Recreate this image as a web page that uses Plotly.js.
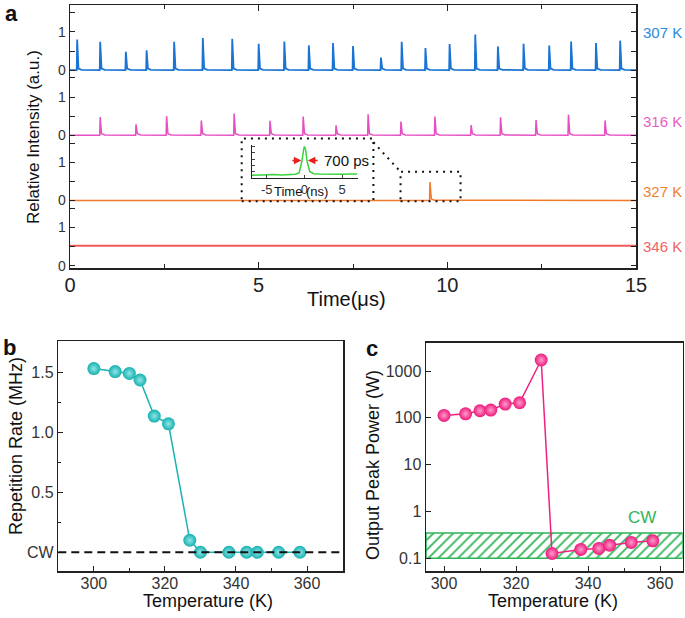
<!DOCTYPE html>
<html>
<head>
<meta charset="utf-8">
<script src="https://cdn.plot.ly/plotly-3.0.1.min.js"></script>
<style>
  html, body { margin: 0; padding: 0; background: #fff; }
  #fig { width: 685px; height: 618px; }
</style>
</head>
<body>
<div id="fig"></div>
<script>
// panel a: pulse trains (time in µs, relative height)
const times307 = [0.19, 0.80, 1.48, 2.03, 2.76, 3.52, 4.30, 5.00, 5.68, 6.33, 6.97, 7.50, 8.24, 8.79, 9.42, 10.06, 10.74, 11.34, 12.02, 12.70, 13.28, 13.94, 14.58];
const heights307 = [0.80, 0.74, 0.48, 0.52, 0.74, 0.84, 0.82, 0.69, 0.75, 0.65, 0.71, 0.63, 0.33, 0.74, 0.58, 0.68, 0.93, 0.62, 0.69, 0.64, 0.75, 0.71, 0.77];
const times316 = [0.80, 1.75, 2.56, 3.48, 4.35, 5.30, 6.18, 7.05, 7.90, 8.77, 9.67, 10.63, 11.41, 12.35, 13.21, 14.18];
const heights316 = [0.48, 0.29, 0.50, 0.39, 0.57, 0.38, 0.49, 0.26, 0.55, 0.36, 0.49, 0.27, 0.47, 0.40, 0.54, 0.39];
const times327 = [9.54];
const heights327 = [0.48];
const level346 = 0.52;
const bandLabels = ['307 K', '316 K', '327 K', '346 K'];
const bandTickSteps = [0, 0.5, 1, 1.5];
const bandTickText = ['0', '', '1', ''];

// inset: single pulse (time in ns)
const insetTime = [-7, -6, -5, -4, -3, -2, -1.2, -0.7, -0.35, -0.1, 0, 0.15, 0.35, 0.7, 1.2, 2, 3, 4, 5, 6, 7];
const insetValue = [0.08, 0.09, 0.08, 0.10, 0.09, 0.10, 0.11, 0.16, 0.52, 0.92, 1.0, 0.90, 0.52, 0.20, 0.13, 0.12, 0.11, 0.12, 0.11, 0.12, 0.12];
const insetTicks = [-5, 0, 5];
const insetTickText = ['-5', '0', '5'];

// panels b and c
const temps = [300, 306, 310, 313, 317, 321, 327, 330, 338, 343, 346, 352, 358];
const repRate = [1.53, 1.505, 1.49, 1.435, 1.135, 1.07, 0.10, 0, 0, 0, 0, 0, 0];
const peakPower = [113, 122, 142, 147, 197, 210, 1720, 0.127, 0.155, 0.163, 0.191, 0.219, 0.237];
const cwBand = [0.1, 0.35];
const rateTicks = [0, 0.5, 1, 1.5];
const rateTickText = ['CW', '0.5', '1.0', '1.5'];
const powerTicks = [0.1, 1, 10, 100, 1000];
const powerTickText = ['0.1', '1', '10', '100', '1000'];

const W = 685, H = 618;
const px = x => x / W;
const py = y => 1 - y / H;
const FONT = 'Liberation Sans, Arial, sans-serif';

const bandOffsets = [5.1, 3.4, 1.7, 0];
const bandColors = ['#1a74d4', '#e64fc4', '#f07a2a', '#f25a5a'];
const labelColors = ['#2a8bdc', '#e85cc8', '#f0802e', '#f06464'];

function spikeTrain(times, heights, offset) {
  const x = [0], y = [offset];
  times.forEach((t, i) => {
    x.push(t - 0.012, t, t + 0.035, t + 0.12);
    y.push(offset, offset + heights[i], offset + 0.04, offset + 0.01);
  });
  x.push(15); y.push(offset);
  return {x, y};
}

const traces = [];
const s1 = spikeTrain(times307, heights307, bandOffsets[0]);
const s2 = spikeTrain(times316, heights316, bandOffsets[1]);
const s3 = spikeTrain(times327, heights327, bandOffsets[2]);
[s1, s2, s3].forEach((s, i) => {
  traces.push({x: s.x, y: s.y, xaxis: 'x', yaxis: 'y', mode: 'lines',
    line: {color: bandColors[i], width: i === 0 ? 1.8 : 1.5}, hoverinfo: 'skip'});
});
traces.push({x: [0, 15], y: [bandOffsets[3] + level346, bandOffsets[3] + level346],
  xaxis: 'x', yaxis: 'y', mode: 'lines', line: {color: bandColors[3], width: 2}});

// inset
traces.push({x: insetTime, y: insetValue, xaxis: 'x2', yaxis: 'y2', mode: 'lines',
  line: {color: '#3ad23a', width: 1.5}});

// panel b
traces.push({x: temps, y: repRate, xaxis: 'x3', yaxis: 'y3', mode: 'lines+markers',
  line: {color: '#1ab3b3', width: 1.5},
  marker: {size: 13, color: '#17b0b0', gradient: {type: 'radial', color: '#8fe6e6'}}});

// panel c: CW hatched band, then data
traces.push({x: [295, 366.3, 366.3, 295, 295], y: [cwBand[0], cwBand[0], cwBand[1], cwBand[1], cwBand[0]],
  xaxis: 'x4', yaxis: 'y4', mode: 'lines', fill: 'toself', fillcolor: 'rgba(0,0,0,0)',
  fillpattern: {shape: '/', fgcolor: '#2fb457', bgcolor: 'white', size: 7, solidity: 0.25},
  line: {color: '#2fb457', width: 1.5}});
traces.push({x: temps, y: peakPower, xaxis: 'x4', yaxis: 'y4', mode: 'lines+markers',
  line: {color: '#ee2080', width: 1.5},
  marker: {size: 13, color: '#ec1a7c', gradient: {type: 'radial', color: '#ff9ccb'}}});

const tickVals = [], tickText = [];
bandOffsets.forEach(o => bandTickSteps.forEach((s, j) => { tickVals.push(o + s); tickText.push(bandTickText[j]); }));

const baseAxis = {showline: true, linecolor: '#222', linewidth: 1.5, showgrid: false, zeroline: false,
  ticks: 'inside', tickcolor: '#222', tickfont: {family: FONT, size: 16, color: '#333'}};

const layout = {
  width: W, height: H,
  margin: {l: 0, r: 0, t: 0, b: 0},
  paper_bgcolor: 'white', plot_bgcolor: 'white',
  showlegend: false,
  font: {family: FONT, color: '#222'},
  xaxis: Object.assign({}, baseAxis, {domain: [px(70), px(636)], anchor: 'y', range: [0, 15],
    tickmode: 'linear', tick0: 0, dtick: 5, ticklen: 6, mirror: 'ticks', ticklabelstandoff: -2,
    minor: {dtick: 2.5, ticks: 'inside', ticklen: 4, tickcolor: '#222'},
    tickfont: {family: FONT, size: 20, color: '#222'}}),
  yaxis: Object.assign({}, baseAxis, {domain: [py(268), py(5)], anchor: 'x', range: [-0.06, 6.8],
    tickmode: 'array', tickvals: tickVals, ticktext: tickText, ticklen: 5, mirror: 'ticks',
    tickfont: {family: FONT, size: 14, color: '#333'}}),
  xaxis2: {domain: [px(251.7), px(358)], anchor: 'y2', range: [-7, 7.1], showline: true, linecolor: '#222',
    linewidth: 1, showgrid: false, zeroline: false, ticks: 'inside', ticklen: 3,
    tickmode: 'array', tickvals: insetTicks, ticktext: insetTickText,
    tickfont: {family: FONT, size: 13, color: '#333'}},
  yaxis2: {domain: [py(177.7), py(145)], anchor: 'x2', range: [0, 1.05], showline: true, linecolor: '#222',
    linewidth: 1, showgrid: false, zeroline: false, ticks: 'inside', ticklen: 3, dtick: 0.2, showticklabels: false},
  xaxis3: Object.assign({}, baseAxis, {domain: [px(58.3), px(343.3)], anchor: 'y3', range: [290, 370.2],
    tickvals: [300, 320, 340, 360], ticklen: 5, mirror: true, ticklabelstandoff: -3,
    minor: {tickvals: [310, 330, 350], ticks: 'inside', ticklen: 3, tickcolor: '#222'}}),
  yaxis3: Object.assign({}, baseAxis, {domain: [py(571), py(341)], anchor: 'x3', range: [-0.156, 1.76],
    tickmode: 'array', tickvals: rateTicks, ticktext: rateTickText, ticklen: 5, mirror: true,
    minor: {tickvals: [0.25, 0.75, 1.25], ticks: 'inside', ticklen: 3, tickcolor: '#222'}}),
  xaxis4: Object.assign({}, baseAxis, {domain: [px(426), px(682.7)], anchor: 'y4', range: [295, 366.3],
    tickvals: [300, 320, 340, 360], ticklen: 5, mirror: true, ticklabelstandoff: -3,
    minor: {tickvals: [310, 330, 350], ticks: 'inside', ticklen: 3, tickcolor: '#222'}}),
  yaxis4: Object.assign({}, baseAxis, {domain: [py(571), py(342.7)], anchor: 'x4', type: 'log',
    range: [-1.27, 3.605], tickmode: 'array', tickvals: powerTicks, ticktext: powerTickText,
    ticklen: 5, mirror: true}),
  shapes: [
    // zoom boxes in panel a
    {type: 'rect', xref: 'x', yref: 'y', x0: 4.55, x1: 8.04, y0: 1.68, y1: 3.32,
      line: {color: '#111', width: 2, dash: '2px,5px'}},
    {type: 'rect', xref: 'x', yref: 'y', x0: 8.76, x1: 10.35, y0: 1.68, y1: 2.45,
      line: {color: '#111', width: 2, dash: '2px,5px'}},
    {type: 'line', xref: 'x', yref: 'y', x0: 8.04, y0: 3.22, x1: 8.76, y1: 2.45,
      line: {color: '#111', width: 2, dash: '2px,5px'}},
    // CW level in panel b
    {type: 'line', xref: 'x3 domain', yref: 'y3', x0: 0, x1: 1, y0: 0, y1: 0,
      line: {color: '#111', width: 2, dash: '8px,5px'}}
  ],
  annotations: []
};

const ann = layout.annotations;
function label(text, x, y, size, opts) {
  ann.push(Object.assign({text, xref: 'paper', yref: 'paper', x: px(x), y: py(y), showarrow: false,
    xanchor: 'center', yanchor: 'middle', font: {family: FONT, size, color: '#111'}}, opts || {}));
}
label('<b>a</b>', 11, 13, 22);
label('<b>b</b>', 9, 347, 22);
label('<b>c</b>', 372, 348, 22);
const labelY = [32, 122, 192, 246];
bandLabels.forEach((t, i) => label(t, 641, labelY[i], 15, {xanchor: 'left', font: {family: FONT, size: 15, color: labelColors[i]}}));
label('Relative Intensity (a.u.)', 34, 137, 17, {textangle: -90});
label('Time(\u03bcs)', 346, 299, 20);
label('Time (ns)', 301, 192, 13);
label('700 ps', 322, 160.5, 15, {xanchor: 'left'});
label('Repetition Rate (MHz)', 16, 446, 18, {textangle: -90});
label('Temperature (K)', 208, 601, 18);
label('Output Peak Power (W)', 373, 465, 18, {textangle: -90});
label('Temperature (K)', 553, 601, 18);
label('CW', 642, 517, 17, {font: {family: FONT, size: 17, color: '#2fb457'}});

// FWHM arrows in the inset
[[-1.8, -0.42], [1.95, 0.45]].forEach(([from, to]) => {
  ann.push({xref: 'x2', yref: 'y2', axref: 'x2', ayref: 'y2', x: to, y: 0.55, ax: from, ay: 0.55,
    text: '', showarrow: true, arrowhead: 2, arrowsize: 1, arrowwidth: 1.5, arrowcolor: '#e8201c'});
});

Plotly.newPlot('fig', traces, layout, {staticPlot: true});
</script>
</body>
</html>
